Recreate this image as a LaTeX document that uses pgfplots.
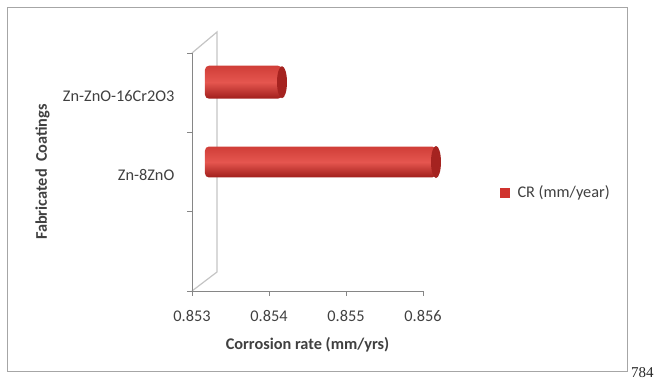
\documentclass[border=0pt]{standalone}
\usepackage{pgfplots}
\pgfplotsset{compat=1.18}
\usepackage{fontspec}
\setmainfont{Carlito}
\newfontfamily\serifnum{Liberation Serif}
\definecolor{txt}{HTML}{404040}
\definecolor{axisgray}{HTML}{868686}
\definecolor{wallgray}{HTML}{C4C4C4}
\definecolor{framegray}{HTML}{A6A6A6}
\definecolor{crtop}{HTML}{D03E38}
\definecolor{crmid}{HTML}{E5564F}
\definecolor{crbot}{HTML}{A01E1B}
\definecolor{crcap}{HTML}{A52320}
\definecolor{crleg}{HTML}{D0332E}
\pgfdeclareplotmark{cap}{\pgfpathellipse{\pgfpointorigin}{\pgfqpoint{5pt}{0pt}}{\pgfqpoint{0pt}{16pt}}\pgfusepathqfill}
\begin{document}
\begin{tikzpicture}[x=1pt,y=1pt]
\fontsize{16.3}{19}\selectfont
\useasboundingbox (0,0) rectangle (657,382);
\draw[framegray, line width=0.9pt] (7,11) rectangle (627,375);
\draw[wallgray, line width=1.2pt] (192,329) -- (217,350) -- (217,110) -- (192,91);
\begin{axis}[
  at={(192pt,91pt)}, anchor=south west,
  scale only axis, width=231pt, height=238pt,
  xmin=0.853, xmax=0.856, ymin=0, ymax=3,
  axis x line*=bottom, axis y line*=left,
  axis line style={axisgray, line width=0.8pt},
  tick style={axisgray, line width=0.8pt},
  tick align=outside, major tick length=5pt,
  xtick={0.853,0.854,0.855,0.856},
  xticklabels={0.853,0.854,0.855,0.856},
  xticklabel style={text=txt, anchor=north, yshift=-9pt},
  ytick={0,1,2,3}, yticklabels={,,,},
  extra y ticks={1.5,2.5},
  extra y tick labels={Zn-8ZnO,Zn-ZnO-16Cr2O3},
  extra y tick style={major tick length=0pt,
    yticklabel style={text=txt, anchor=east, xshift=-12pt, yshift=-3pt}},
  xlabel={Corrosion rate (mm/yrs)},
  xlabel style={font=\bfseries, text=txt, at={(axis description cs:0.5,-0.226)}, anchor=center},
  ylabel={Fabricated\hspace{0.45em}Coatings},
  ylabel style={font=\bfseries, text=txt, at={(axis description cs:-0.647,0.5)}, anchor=center},
  legend style={at={(axis description cs:1.333,0.414)}, anchor=west,
    draw=none, fill=none, inner sep=0pt, text=txt, column sep=6pt,
    legend cell align=left},
  clip=false,
]
% Zn-ZnO-16Cr2O3 : 0.854
\addplot[draw=none, top color=crtop, bottom color=crbot, middle color=crmid,
  xshift=13pt, rounded corners=4pt, forget plot]
  coordinates {(0.853,2.424) (0.854,2.424) (0.854,2.840) (0.853,2.840)} -- cycle;
% Zn-8ZnO : 0.856
\addplot[draw=none, top color=crtop, bottom color=crbot, middle color=crmid,
  xshift=13pt, rounded corners=4pt, forget plot]
  coordinates {(0.853,1.431) (0.856,1.431) (0.856,1.821) (0.853,1.821)} -- cycle;
\addplot[only marks, mark=cap, color=crcap, mark options={fill=crcap, draw=none},
  xshift=13pt, forget plot]
  coordinates {(0.854,2.632) (0.856,1.626)};
\addlegendimage{legend image code/.code={\fill[crleg] (0pt,-4.5pt) rectangle (9pt,4.5pt);}}
\addlegendentry{CR (mm/year)}
\end{axis}
\node[anchor=base west, text=black!85, inner sep=0pt] at (631,4) {\serifnum\fontsize{15}{18}\selectfont 784};
\end{tikzpicture}
\end{document}
